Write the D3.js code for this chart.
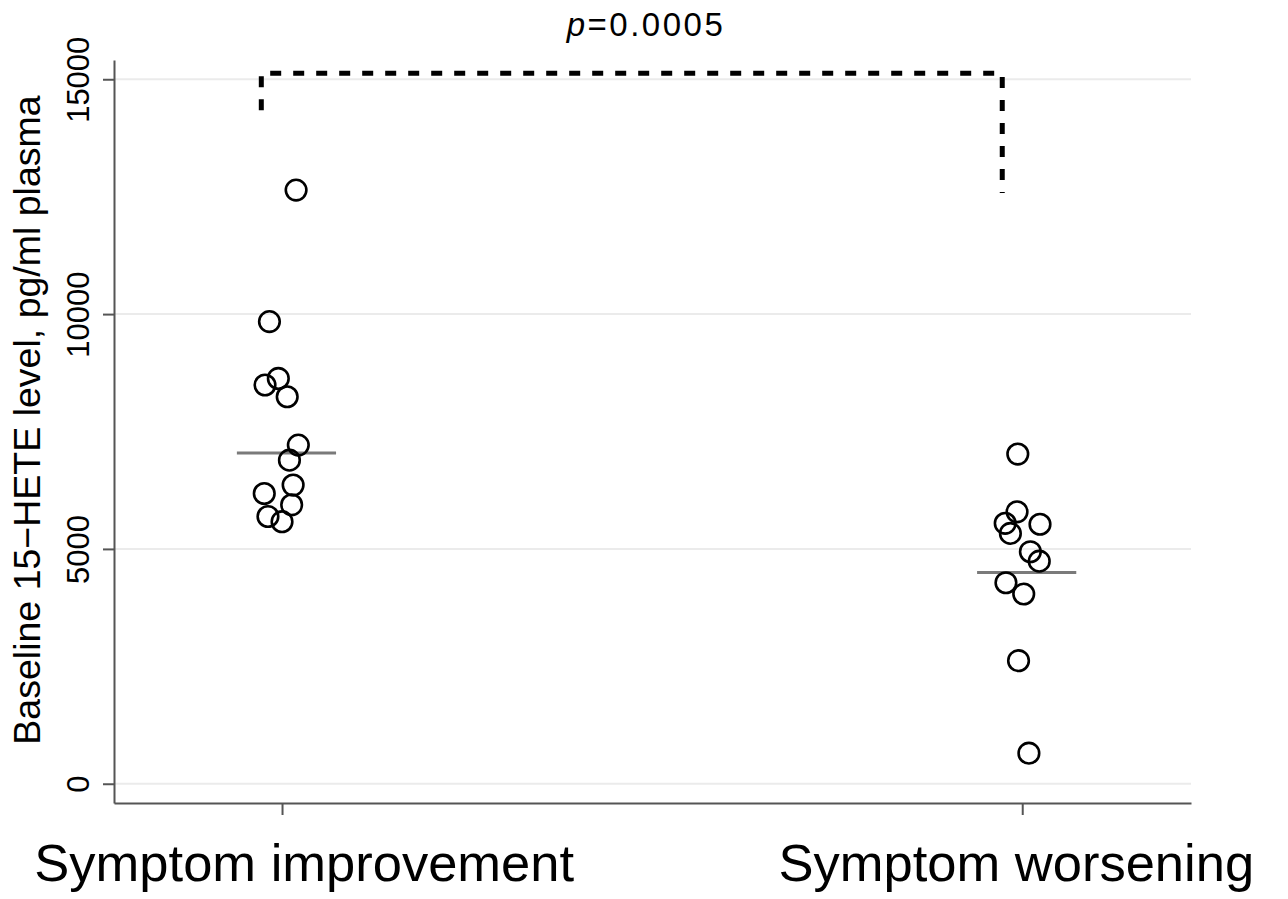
<!DOCTYPE html>
<html>
<head>
<meta charset="utf-8">
<script src="https://cdn.jsdelivr.net/npm/d3@7"></script>
<style>
  html, body { margin: 0; padding: 0; background: #fff; }
  svg { display: block; }
  text { font-family: "Liberation Sans", Arial, Helvetica, sans-serif; fill: #000; }
</style>
</head>
<body>
<svg id="chart" width="1288" height="899"></svg>
<script>
// ---- data ----
const categories = ["Symptom improvement", "Symptom worsening"];
const yTicks = [0, 5000, 10000, 15000];
// group 1: symptom improvement (pg/ml)
const improvementValues = [12640, 9840, 8630, 8490, 8240, 7210, 6890, 6360, 6180, 5940, 5690, 5580];
const improvementJitter = [0.019, -0.017, -0.005, -0.023, 0.007, 0.022, 0.010, 0.015, -0.024, 0.013, -0.019, 0.000];
// group 2: symptom worsening (pg/ml)
const worseningValues = [7020, 5790, 5545, 5525, 5330, 4940, 4740, 4280, 4040, 2620, 650];
const worseningJitter = [-0.006, -0.007, -0.023, 0.024, -0.016, 0.011, 0.023, -0.022, 0.002, -0.005, 0.009];
const medians = [7040, 4500];
const pLabel = "0.0005";
const bracketLevel = 15130;
const bracketEnds = [14340, 12580];

// ---- layout ----
const svg = d3.select("#chart");
const x = d3.scaleLinear().domain([0.773, 2.228]).range([114, 1191]);
const y = d3.scaleLinear().domain([-410, 15410]).range([803, 60]);

// gridlines
svg.append("g").selectAll("line").data(yTicks).join("line")
  .attr("x1", x(0.773) + 1).attr("x2", x(2.228))
  .attr("y1", d => y(d)).attr("y2", d => y(d))
  .attr("stroke", "#ebebeb").attr("stroke-width", 2);

// y axis
const yAxis = svg.append("g").attr("transform", `translate(${x(0.773)},0)`)
  .call(d3.axisLeft(y).tickValues(yTicks).tickSize(11).tickSizeOuter(0).tickFormat(d3.format("d")));
yAxis.attr("font-size", null).attr("font-family", null);
yAxis.select(".domain").attr("stroke", "#555").attr("stroke-width", 2);
yAxis.selectAll(".tick line").attr("stroke", "#555").attr("stroke-width", 2);
yAxis.selectAll(".tick text")
  .attr("transform", "rotate(-90)")
  .attr("x", 0).attr("y", -25).attr("dy", 0)
  .attr("text-anchor", "middle")
  .style("font-size", "31px").attr("fill", "#000");

// x axis
const xAxis = svg.append("g").attr("transform", `translate(0,${y(-410)})`)
  .call(d3.axisBottom(x).tickValues([1, 2]).tickSize(12).tickSizeOuter(0).tickFormat(""));
xAxis.select(".domain").attr("stroke", "#555").attr("stroke-width", 2);
xAxis.selectAll(".tick line").attr("stroke", "#555").attr("stroke-width", 2);

// category labels
const labelOffsets = [0.030, -0.008];
svg.append("g").selectAll("text").data(categories).join("text")
  .attr("x", (d, i) => x(i + 1 + labelOffsets[i]))
  .attr("y", 881)
  .attr("text-anchor", "middle")
  .style("font-size", "52.5px")
  .text(d => d);

// y axis title
svg.append("text")
  .attr("transform", "translate(40,420) rotate(-90)")
  .attr("text-anchor", "middle")
  .style("font-size", "37.5px")
  .text("Baseline 15\u2212HETE level, pg/ml plasma");

// median lines
svg.append("g").selectAll("line").data(medians).join("line")
  .attr("x1", (d, i) => x(i + 1 - 0.061))
  .attr("x2", (d, i) => x(i + 1 + 0.073))
  .attr("y1", d => y(d)).attr("y2", d => y(d))
  .attr("stroke", "#7a7a7a").attr("stroke-width", 3);

// points
const pts = improvementValues.map((v, i) => ({g: 1, v, j: improvementJitter[i]}))
  .concat(worseningValues.map((v, i) => ({g: 2, v, j: worseningJitter[i]})));
svg.append("g").selectAll("circle").data(pts).join("circle")
  .attr("cx", d => x(d.g + d.j))
  .attr("cy", d => y(d.v))
  .attr("r", 10.3)
  .attr("fill", "none")
  .attr("stroke", "#000")
  .attr("stroke-width", 2.6);

// significance bracket
const bx = [1 - 0.028, 2 - 0.027];
const bracket = d3.line()([
  [x(bx[0]), y(bracketEnds[0])],
  [x(bx[0]), y(bracketLevel)],
  [x(bx[1]), y(bracketLevel)],
  [x(bx[1]), y(bracketEnds[1])]
]);
svg.append("path").attr("d", bracket)
  .attr("fill", "none").attr("stroke", "#000")
  .attr("stroke-width", 5).attr("stroke-dasharray", "11 12");

// p value
const pt = svg.append("text")
  .attr("x", 646).attr("y", 36)
  .attr("text-anchor", "middle")
  .style("font-size", "33px")
  .style("letter-spacing", "2.5px");
pt.append("tspan").style("font-style", "italic").text("p");
pt.append("tspan").text("=" + pLabel);
</script>
</body>
</html>
